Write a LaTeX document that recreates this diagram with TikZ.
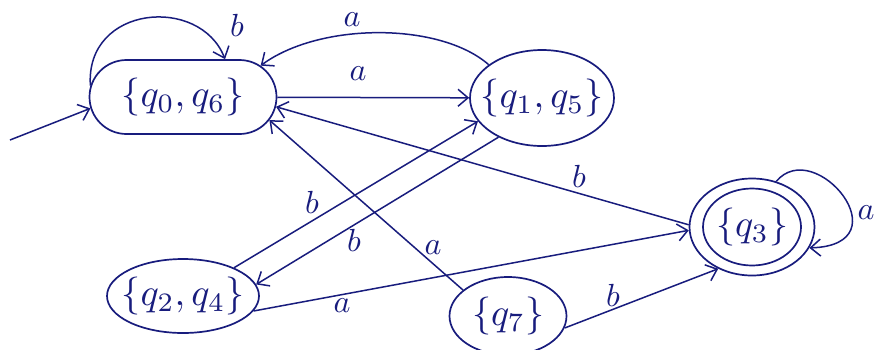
\documentclass[tikz,border=0pt]{standalone}
\usepackage{graphicx}
\usetikzlibrary{shapes.geometric,shapes.misc,arrows.meta}
\definecolor{ink}{RGB}{24,28,125}
\newcommand{\stname}[1]{\makebox[0pt][c]{\scalebox{3.8}{$#1$}}}
\newcommand{\edgelab}[1]{\scalebox{3.2}{$#1$}}
\begin{document}
\begin{tikzpicture}[x=1pt,y=-1pt,
  state/.style={draw=ink,line width=1.7pt,inner sep=0pt,text=ink},
  oval/.style={state,ellipse},
  edge/.style={draw=ink,line width=1.5pt,-{Straight Barb[length=10pt,width=17pt]}},
  lbl/.style={text=ink,inner sep=1pt}]
\fill[white] (0,0) rectangle (877,349);
\useasboundingbox (0,0) rectangle (877,349);
% states
\node[state,rounded rectangle,minimum width=187pt,minimum height=74pt] (q06) at (183,97) {\stname{\{q_0,q_6\}}};
\node[oval,minimum width=144pt,minimum height=96pt] (q15) at (542,98) {\stname{\{q_1,q_5\}}};
\node[oval,minimum width=152pt,minimum height=74pt] (q24) at (183,296) {\stname{\{q_2,q_4\}}};
\node[oval,minimum width=117pt,minimum height=78pt] (q7) at (508,316) {\stname{\{q_7\}}};
\node[oval,minimum width=125pt,minimum height=97pt] (q3) at (752,227) {\stname{\{q_3\}}};
\node[oval,minimum width=98pt,minimum height=77pt] (q3in) at (q3) {};
% start
\coordinate (s) at (10,140);
\draw[edge] (s) -- (q06.187);
% transitions
\draw[edge] (q06.173) .. controls (85,5) and (200,-5) .. (q06.42);
\node[lbl] (lb1) at (237,25) {\edgelab{b}};
\draw[edge] (q15.148) .. controls (440,22) and (320,22) .. (q06.22);
\node[lbl] (la1) at (352,20) {\edgelab{a}};
\draw[edge] (q06) -- (q15);
\node[lbl] (la2) at (358,74) {\edgelab{a}};
\draw[edge] (q24.29) -- (q15.200);
\node[lbl] (lb2) at (312,202) {\edgelab{b}};
\draw[edge] (q15.222) -- (q24.9);
\node[lbl] (lb3) at (354,240) {\edgelab{b}};
\draw[edge] (q3.178) -- (q06.-6);
\node[lbl] (lb4) at (579,176) {\edgelab{b}};
\draw[edge] (q7.150) -- (q06.-15);
\node[lbl] (la3) at (433,248) {\edgelab{a}};
\draw[edge] (q24.-12) -- (q3.183);
\node[lbl] (la4) at (342,306) {\edgelab{a}};
\draw[edge] (q7.-12) -- (q3.231);
\node[lbl] (lb5) at (613,295) {\edgelab{b}};
\draw[edge] (q3.62) .. controls (815,135) and (905,245) .. (q3.-20);
\node[lbl] (la5) at (866,213) {\edgelab{a}};
\end{tikzpicture}
\end{document}
